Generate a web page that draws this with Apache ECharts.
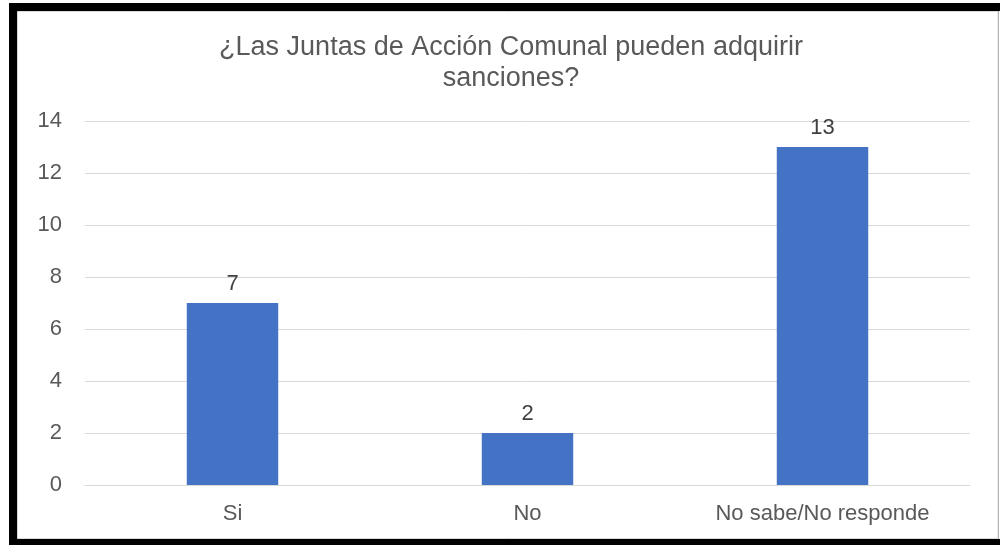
<!DOCTYPE html>
<html>
<head>
<meta charset="utf-8">
<script src="https://cdn.jsdelivr.net/npm/echarts@6/dist/echarts.min.js"></script>
<style>html,body{margin:0;padding:0;background:#fff;}#c{width:1000px;height:545px;}</style>
</head>
<body>
<div id="c"></div>
<script>
const titleText = '¿Las Juntas de Acción Comunal pueden adquirir\nsanciones?';
const categories = ['Si', 'No', 'No sabe/No responde'];
const values = [7, 2, 13];
const yTicks = [0, 2, 4, 6, 8, 10, 12, 14];

const chart = echarts.init(document.getElementById('c'), null, {renderer: 'canvas'});
const FONT = 'Liberation Sans';
chart.setOption({
  animation: false,
  backgroundColor: '#ffffff',
  graphic: [
    {type: 'rect', z: -100, silent: true, shape: {x: 9, y: 3, width: 1010, height: 560}, style: {fill: '#000000'}},
    {type: 'rect', z: -99, silent: true, shape: {x: 17.5, y: 11.5, width: 980.5, height: 527}, style: {fill: '#ffffff', stroke: '#d9d9d9', lineWidth: 1}},
    {type: 'rect', z: -98, silent: true, shape: {x: 998.5, y: 11, width: 5, height: 528}, style: {fill: '#ffffff'}}
  ],
  title: {
    text: titleText,
    left: 511,
    top: 32,
    padding: 0,
    textAlign: 'center',
    textStyle: {fontFamily: FONT, fontSize: 27, fontWeight: 'normal', color: '#595959', lineHeight: 31}
  },
  grid: {left: 85, right: 30, top: 121, bottom: 60, containLabel: false},
  xAxis: {
    type: 'category',
    data: categories,
    axisLine: {show: true, lineStyle: {color: '#d9d9d9', width: 1}},
    axisTick: {show: false},
    axisLabel: {fontFamily: FONT, fontSize: 22, color: '#595959', margin: 18}
  },
  yAxis: {
    type: 'value',
    min: yTicks[0],
    max: yTicks[yTicks.length - 1],
    interval: 2,
    axisLine: {show: false},
    axisTick: {show: false},
    axisLabel: {fontFamily: FONT, fontSize: 22, color: '#595959', margin: 23},
    splitLine: {lineStyle: {color: '#d9d9d9', width: 1}}
  },
  series: [{
    type: 'bar',
    data: values,
    barWidth: '31%',
    itemStyle: {color: '#4472c4'},
    label: {show: true, position: 'top', distance: 8, fontFamily: FONT, fontSize: 22, color: '#404040'}
  }]
});
</script>
</body>
</html>
